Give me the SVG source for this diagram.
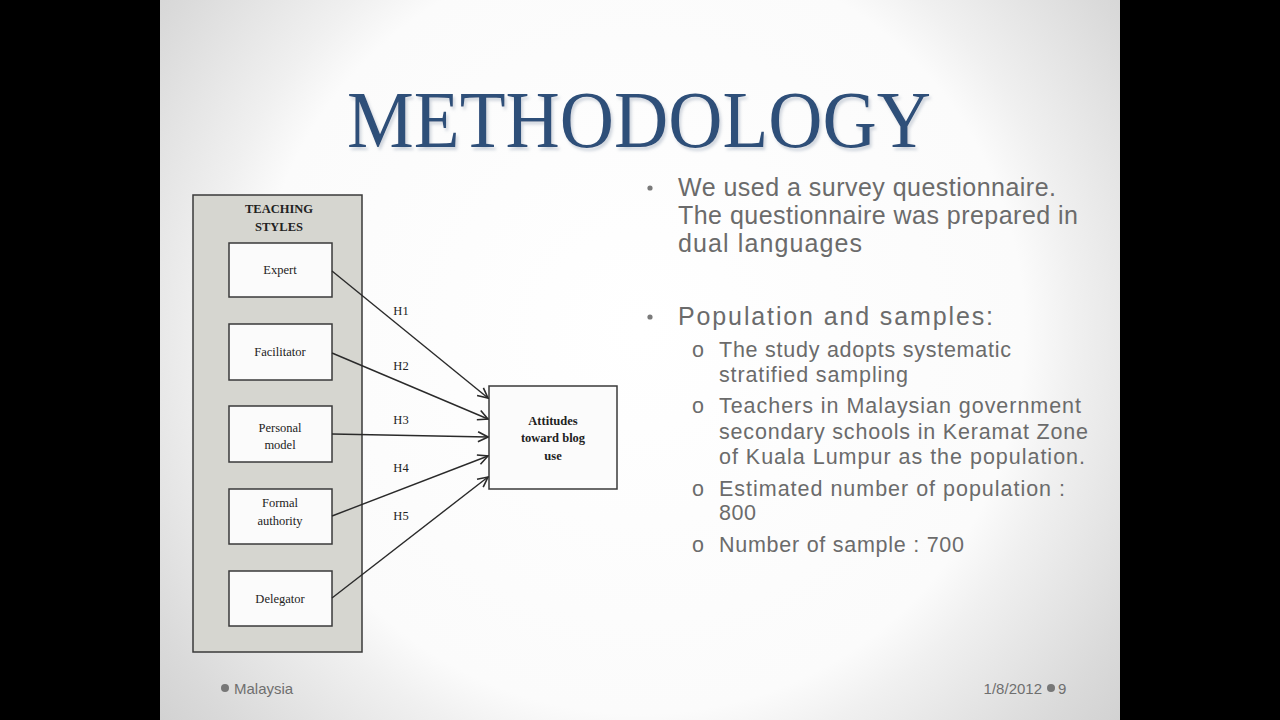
<svg xmlns="http://www.w3.org/2000/svg" width="1280" height="720" viewBox="0 0 1280 720">
  <defs>
    <radialGradient id="bg" gradientUnits="userSpaceOnUse" cx="640" cy="330" r="640">
      <stop offset="0" stop-color="#ffffff"/>
      <stop offset="0.60" stop-color="#fbfbfb"/>
      <stop offset="0.68" stop-color="#f0f0f0"/>
      <stop offset="0.78" stop-color="#e5e5e5"/>
      <stop offset="0.88" stop-color="#dadada"/>
      <stop offset="1" stop-color="#cfcfcf"/>
    </radialGradient>
    <filter id="shadow" x="-5%" y="-20%" width="110%" height="150%">
      <feDropShadow dx="2" dy="3" stdDeviation="1.5" flood-color="#9aa6b8" flood-opacity="0.45"/>
    </filter>
    <marker id="arr" viewBox="0 0 12 12" refX="11" refY="6" markerWidth="12" markerHeight="12" markerUnits="userSpaceOnUse" orient="auto">
      <path d="M1,1 L11,6 L1,11" fill="none" stroke="#2a2a2a" stroke-width="1.6"/>
    </marker>
  </defs>
  <style>
    .box { fill: #fbfbfb; stroke: #3a3a3a; stroke-width: 1.5; }
    .lbl { font-family: "Liberation Serif", serif; font-size: 12.5px; fill: #222; text-anchor: middle; }
    .bold { font-weight: bold; }
    .conn { stroke: #2a2a2a; stroke-width: 1.4; fill: none; marker-end: url(#arr); }
    .main { font-family: "Liberation Sans", Arial, sans-serif; font-size: 25px; fill: #6b6b6b; }
    .sub { font-family: "Liberation Sans", Arial, sans-serif; font-size: 21.5px; fill: #6b6b6b; }
    .foot { font-family: "Liberation Sans", Arial, sans-serif; font-size: 15px; fill: #6f6f6f; }
  </style>

  <rect x="0" y="0" width="1280" height="720" fill="#000"/>
  <rect x="160" y="0" width="960" height="720" fill="url(#bg)"/>

  <!-- Title -->
  <text x="347" y="147" font-family="Liberation Serif, serif" font-size="80" fill="#2f4f79" textLength="584" lengthAdjust="spacingAndGlyphs" filter="url(#shadow)">METHODOLOGY</text>

  <!-- Diagram -->
  <g id="teaching-styles">
    <rect x="193" y="195" width="169" height="457" fill="#d6d6d0" stroke="#3a3a3a" stroke-width="1.5"/>
    <text class="lbl bold" x="279" y="213" font-size="13">TEACHING</text>
    <text class="lbl bold" x="279" y="231" font-size="13">STYLES</text>
  </g>
  <g id="expert">
    <rect class="box" x="229" y="243" width="103" height="54"/>
    <text class="lbl" x="280" y="274">Expert</text>
  </g>
  <g id="facilitator">
    <rect class="box" x="229" y="324" width="103" height="56"/>
    <text class="lbl" x="280" y="356">Facilitator</text>
  </g>
  <g id="personal-model">
    <rect class="box" x="229" y="406" width="103" height="56"/>
    <text class="lbl" x="280" y="432">Personal</text>
    <text class="lbl" x="280" y="449">model</text>
  </g>
  <g id="formal-authority">
    <rect class="box" x="229" y="489" width="103" height="55"/>
    <text class="lbl" x="280" y="507">Formal</text>
    <text class="lbl" x="280" y="525">authority</text>
  </g>
  <g id="delegator">
    <rect class="box" x="229" y="571" width="103" height="55"/>
    <text class="lbl" x="280" y="603">Delegator</text>
  </g>
  <g id="attitudes">
    <rect class="box" x="489" y="386" width="128" height="103" stroke-width="1.3"/>
    <text class="lbl bold" x="553" y="425">Attitudes</text>
    <text class="lbl bold" x="553" y="442">toward blog</text>
    <text class="lbl bold" x="553" y="460">use</text>
  </g>

  <g id="connectors">
    <line class="conn" x1="332" y1="271" x2="488" y2="398"/>
    <line class="conn" x1="332" y1="353" x2="488" y2="419"/>
    <line class="conn" x1="332" y1="434" x2="488" y2="437"/>
    <line class="conn" x1="332" y1="516" x2="488" y2="456"/>
    <line class="conn" x1="332" y1="598" x2="488" y2="477"/>
    <text class="lbl" x="401" y="315">H1</text>
    <text class="lbl" x="401" y="370">H2</text>
    <text class="lbl" x="401" y="424">H3</text>
    <text class="lbl" x="401" y="472">H4</text>
    <text class="lbl" x="401" y="520">H5</text>
  </g>

  <!-- Right text -->
  <g id="bullets">
    <circle cx="650" cy="188" r="2.6" fill="#7a7a7a"/>
    <text class="main" x="678" y="196" textLength="378" lengthAdjust="spacing">We used a survey questionnaire.</text>
    <text class="main" x="678" y="224" textLength="400" lengthAdjust="spacing">The questionnaire was prepared in</text>
    <text class="main" x="678" y="252" textLength="184" lengthAdjust="spacing">dual languages</text>

    <circle cx="650" cy="317" r="2.6" fill="#7a7a7a"/>
    <text class="main" x="678" y="325" font-size="26" textLength="315" lengthAdjust="spacing">Population and samples:</text>

    <text class="sub" x="692" y="357" font-size="15">o</text>
    <text class="sub" x="719" y="357" textLength="292" lengthAdjust="spacing">The study adopts systematic</text>
    <text class="sub" x="719" y="382" textLength="189" lengthAdjust="spacing">stratified sampling</text>

    <text class="sub" x="692" y="413" font-size="15">o</text>
    <text class="sub" x="719" y="413" textLength="362" lengthAdjust="spacing">Teachers in Malaysian government</text>
    <text class="sub" x="719" y="439" textLength="369" lengthAdjust="spacing">secondary schools in Keramat Zone</text>
    <text class="sub" x="719" y="464" textLength="366" lengthAdjust="spacing">of Kuala Lumpur as the population.</text>

    <text class="sub" x="692" y="496" font-size="15">o</text>
    <text class="sub" x="719" y="496" textLength="346" lengthAdjust="spacing">Estimated number of population :</text>
    <text class="sub" x="719" y="520" textLength="37" lengthAdjust="spacing">800</text>

    <text class="sub" x="692" y="552" font-size="15">o</text>
    <text class="sub" x="719" y="552" textLength="245" lengthAdjust="spacing">Number of sample : 700</text>
  </g>

  <!-- Footer -->
  <g id="footer">
    <circle cx="225" cy="688" r="4" fill="#777"/>
    <text class="foot" x="234" y="694">Malaysia</text>
    <text class="foot" x="1042" y="694" text-anchor="end">1/8/2012</text>
    <circle cx="1051" cy="688" r="4" fill="#777"/>
    <text class="foot" x="1058" y="694">9</text>
  </g>
</svg>
